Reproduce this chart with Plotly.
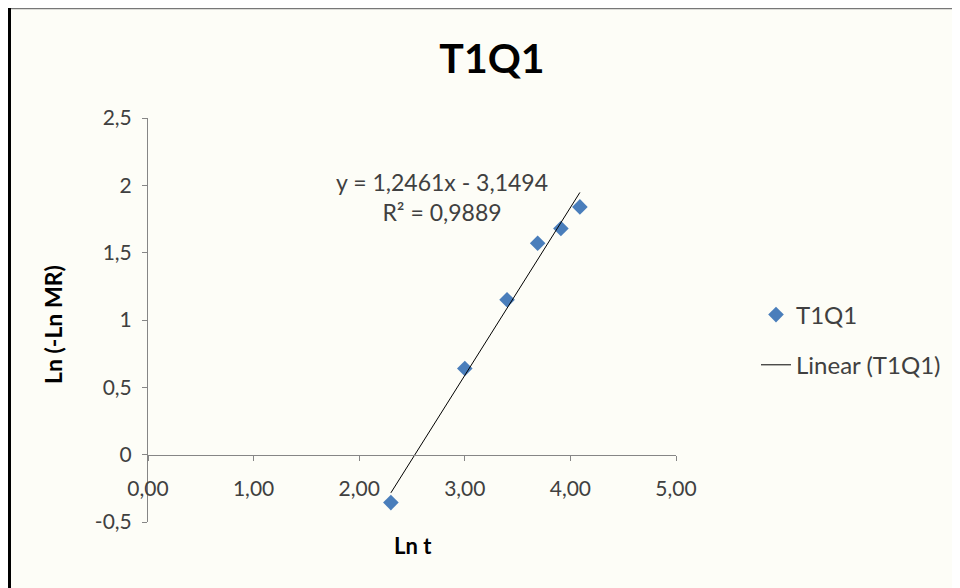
import plotly.graph_objects as go

# Data
ln_t = [2.30, 3.00, 3.40, 3.69, 3.91, 4.09]
ln_neg_ln_mr = [-0.356, 0.64, 1.15, 1.57, 1.68, 1.84]

slope = 1.2461
intercept = -3.1494
r_squared = "0,9889"

x_tickvals = [0, 1, 2, 3, 4, 5]
x_ticktext = ["0,00", "1,00", "2,00", "3,00", "4,00", "5,00"]
y_tickvals = [-0.5, 0, 0.5, 1, 1.5, 2, 2.5]
y_ticktext = ["-0,5", "0", "0,5", "1", "1,5", "2", "2,5"]

FONT = "Lato"
BG = "#fdfdf7"
TXT = "#404040"

W, H = 952, 580
L, R, T, B = 140, 284, 110, 66
PW, PH = W - L - R, H - T - B


def px(xpix):
    return (xpix - L) / PW


def py(ypix):
    return (H - B - ypix) / PH


trend_x = [min(ln_t), max(ln_t)]
trend_y = [slope * v + intercept for v in trend_x]

fig = go.Figure()
fig.add_trace(go.Scatter(
    x=ln_t, y=ln_neg_ln_mr, mode="markers", name="T1Q1",
    legendgroup="a",
    marker=dict(symbol="diamond", size=12, color="#4a7ebb",
                line=dict(width=0)),
))
fig.add_trace(go.Scatter(
    x=trend_x, y=trend_y, mode="lines", name="Linear (T1Q1)",
    legendgroup="b",
    line=dict(color="#000000", width=1),
))

fig.update_layout(
    width=W, height=H,
    margin=dict(l=L, r=R, t=T, b=B),
    paper_bgcolor=BG, plot_bgcolor=BG,
    font=dict(family=FONT, size=21, color=TXT),
    showlegend=True,
    legend=dict(x=px(748), y=py(332), xanchor="left", yanchor="middle",
                bgcolor="rgba(0,0,0,0)", tracegroupgap=16,
                font=dict(family=FONT, size=24, color=TXT)),
    title=dict(text="<b>T1Q1</b>", x=px(484), xref="paper", xanchor="center",
               y=1 - 51 / H, yanchor="middle",
               font=dict(family=FONT, size=41, color="#000000")),
    xaxis=dict(range=[0, 5], tickvals=x_tickvals, ticktext=x_ticktext,
               showgrid=False, zeroline=False, showline=True,
               linecolor="#868686", linewidth=1, ticks="outside",
               ticklen=5, tickcolor="#868686", anchor="free",
               position=1 / 6, ticklabelstandoff=10,
               tickfont=dict(size=21, color=TXT)),
    yaxis=dict(range=[-0.5, 2.5], tickvals=y_tickvals, ticktext=y_ticktext,
               showgrid=False, zeroline=False, showline=True,
               linecolor="#868686", linewidth=1, ticks="outside",
               ticklen=5, tickcolor="#868686", ticklabelstandoff=6,
               tickfont=dict(size=21, color=TXT)),
)

fig.add_annotation(
    x=2.78, y=1.91, xref="x", yref="y",
    text=f"y = {str(slope).replace('.', ',')}x - {str(-intercept).replace('.', ',')}<br>R² = {r_squared}",
    showarrow=False, align="center", xanchor="center", yanchor="middle",
    font=dict(family=FONT, size=23, color=TXT),
)
fig.add_annotation(
    x=px(45), y=py(317), xref="paper", yref="paper",
    xanchor="center", yanchor="middle",
    text="<b>Ln (-Ln MR)</b>", textangle=-90, showarrow=False,
    font=dict(family=FONT, size=23, color="#000000"),
)
fig.add_annotation(
    x=px(405), y=py(537), xref="paper", yref="paper",
    xanchor="center", yanchor="middle",
    text="<b>Ln t</b>", showarrow=False,
    font=dict(family=FONT, size=22, color="#000000"),
)

# frame lines of the chart image
fig.add_shape(type="line", xref="paper", yref="paper",
              x0=px(0), x1=px(W), y0=py(0.6), y1=py(0.6),
              line=dict(color="#777777", width=1.5))
fig.add_shape(type="line", xref="paper", yref="paper",
              x0=px(1.5), x1=px(1.5), y0=py(0), y1=py(H),
              line=dict(color="#000000", width=3))

fig.write_html("out.html")
